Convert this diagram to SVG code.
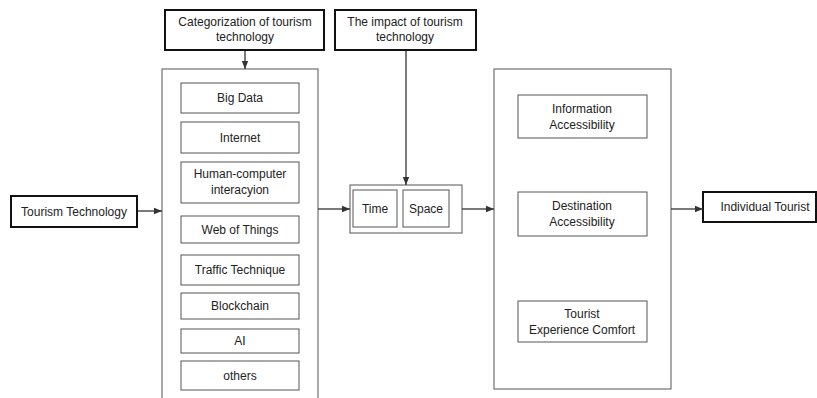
<svg xmlns="http://www.w3.org/2000/svg" width="817" height="398" viewBox="0 0 817 398">
<style>
text{font-family:"Liberation Sans",Arial,sans-serif;font-size:12px;fill:#222;text-anchor:middle}
.thin{fill:#fff;stroke:#555;stroke-width:1}
.thick{fill:#fff;stroke:#111;stroke-width:2}
.con{fill:none;stroke:#333;stroke-width:1.3}
</style>
<defs>
<marker id="ah" viewBox="0 0 10 10" refX="10" refY="5" markerWidth="9" markerHeight="8" markerUnits="userSpaceOnUse" orient="auto">
<path d="M0,1 L10,5 L0,9 Z" fill="#333"/>
</marker>
</defs>
<g id="categorization"><rect class="thick" x="165" y="10" width="159" height="40"/><text x="245" y="26">Categorization of tourism</text><text x="245" y="41">technology</text></g>
<g id="impact"><rect class="thick" x="335" y="10" width="141" height="40"/><text x="405" y="26">The impact of tourism</text><text x="405" y="41">technology</text></g>
<g id="tech-container"><rect class="thin" x="162" y="69" width="156" height="340"/></g>
<g id="bigdata"><rect class="thin" x="181" y="83" width="118" height="30"/><text x="240" y="102">Big Data</text></g>
<g id="internet"><rect class="thin" x="181" y="122" width="118" height="31"/><text x="240" y="142">Internet</text></g>
<g id="hci"><rect class="thin" x="181" y="162" width="118" height="41"/><text x="240" y="178">Human-computer</text><text x="240" y="194">interacyion</text></g>
<g id="wot"><rect class="thin" x="181" y="216" width="118" height="27"/><text x="240" y="234">Web of Things</text></g>
<g id="traffic"><rect class="thin" x="181" y="255" width="118" height="30"/><text x="240" y="274">Traffic Technique</text></g>
<g id="blockchain"><rect class="thin" x="181" y="293" width="118" height="26"/><text x="240" y="310">Blockchain</text></g>
<g id="ai"><rect class="thin" x="181" y="329" width="118" height="24"/><text x="240" y="345">AI</text></g>
<g id="others"><rect class="thin" x="181" y="361" width="118" height="29"/><text x="240" y="380">others</text></g>
<g id="tourism-tech"><rect class="thick" x="11" y="196" width="126" height="31"/><text x="74" y="216">Tourism Technology</text></g>
<g id="timespace"><rect class="thin" x="350" y="185" width="112" height="48"/></g>
<g id="time"><rect class="thin" x="353" y="190" width="44" height="37"/><text x="375" y="213">Time</text></g>
<g id="space"><rect class="thin" x="403" y="190" width="46" height="37"/><text x="426" y="213">Space</text></g>
<g id="access-container"><rect class="thin" x="494" y="69" width="177" height="320"/></g>
<g id="info"><rect class="thin" x="518" y="95" width="129" height="43"/><text x="582" y="113">Information</text><text x="582" y="129">Accessibility</text></g>
<g id="dest"><rect class="thin" x="518" y="192" width="129" height="44"/><text x="582" y="210">Destination</text><text x="582" y="226">Accessibility</text></g>
<g id="comfort"><rect class="thin" x="518" y="301" width="129" height="41"/><text x="582" y="318">Tourist</text><text x="582" y="334">Experience Comfort</text></g>
<g id="individual"><rect class="thick" x="703" y="192" width="113" height="30"/><text x="765" y="211">Individual Tourist</text></g>
<g id="connectors">
<line class="con" x1="245" y1="51" x2="245" y2="69" marker-end="url(#ah)"/>
<line class="con" x1="138" y1="211" x2="162" y2="211" marker-end="url(#ah)"/>
<line class="con" x1="318" y1="209" x2="350" y2="209" marker-end="url(#ah)"/>
<line class="con" x1="406" y1="51" x2="406" y2="185" marker-end="url(#ah)"/>
<line class="con" x1="462" y1="209" x2="494" y2="209" marker-end="url(#ah)"/>
<line class="con" x1="671" y1="209" x2="703" y2="209" marker-end="url(#ah)"/>
</g>
</svg>
